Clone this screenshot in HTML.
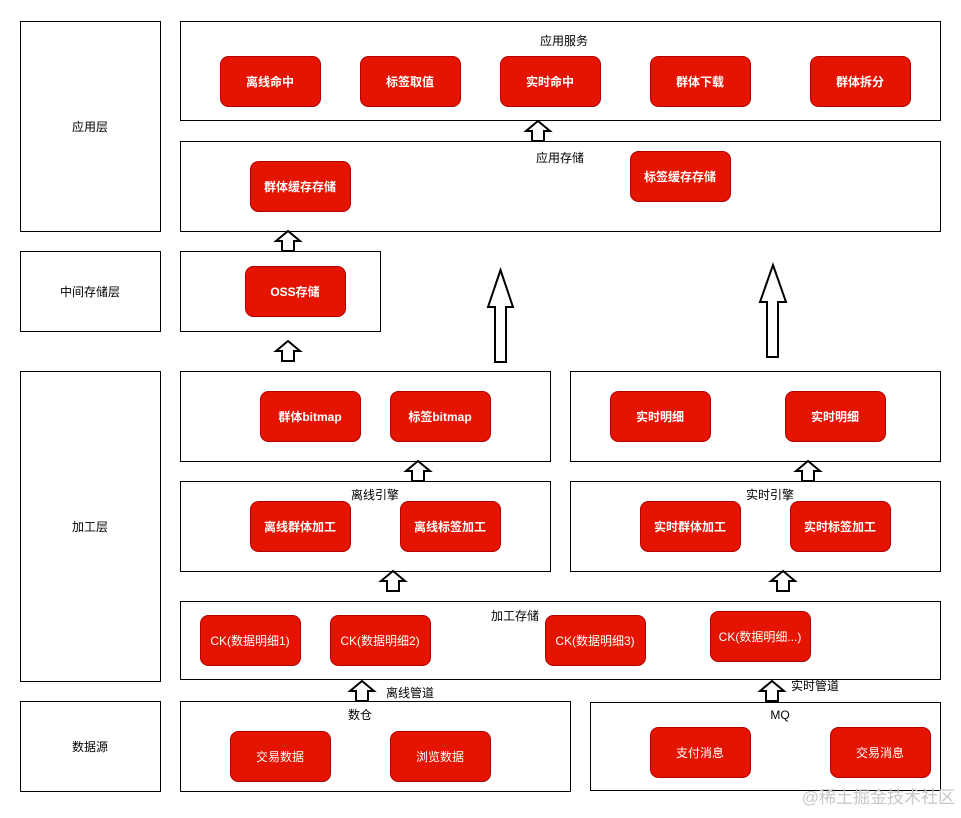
<!DOCTYPE html>
<html><head><meta charset="utf-8"><style>
html,body{margin:0;padding:0;background:#fff;}
svg text{font-family:"Liberation Sans","Noto Sans CJK SC",sans-serif;}
</style></head><body>
<svg width="961" height="813" viewBox="0 0 961 813" xmlns="http://www.w3.org/2000/svg">
<defs>
<g id="sa"><polygon points="0,-10 12,0 6,0 6,10 -6,10 -6,0 -12,0" fill="#fff" stroke="#000" stroke-width="2"/></g>
</defs>
<g fill="#fff" stroke="#000" stroke-width="1">
<rect x="20.5" y="21.5" width="140" height="210"/>
<rect x="20.5" y="251.5" width="140" height="80"/>
<rect x="20.5" y="371.5" width="140" height="310"/>
<rect x="20.5" y="701.5" width="140" height="90"/>
<rect x="180.5" y="21.5" width="760" height="99"/>
<rect x="180.5" y="141.5" width="760" height="90"/>
<rect x="180.5" y="251.5" width="200" height="80"/>
<rect x="180.5" y="371.5" width="370" height="90"/>
<rect x="570.5" y="371.5" width="370" height="90"/>
<rect x="180.5" y="481.5" width="370" height="90"/>
<rect x="570.5" y="481.5" width="370" height="90"/>
<rect x="180.5" y="601.5" width="760" height="78"/>
<rect x="180.5" y="701.5" width="390" height="90"/>
<rect x="590.5" y="702.5" width="350" height="88"/>
</g>
<g font-size="12" fill="#000" text-anchor="middle">
<text x="90" y="131">应用层</text>
<text x="90" y="296">中间存储层</text>
<text x="90" y="531">加工层</text>
<text x="90" y="751">数据源</text>
<text x="564" y="45">应用服务</text>
<text x="560" y="162">应用存储</text>
<text x="375" y="499">离线引擎</text>
<text x="770" y="499">实时引擎</text>
<text x="515" y="620">加工存储</text>
<text x="360" y="719">数仓</text>
<text x="780" y="719">MQ</text>
<text x="410" y="697">离线管道</text>
<text x="815" y="690">实时管道</text>
</g>
<g fill="#e51400" stroke="#b20000" stroke-width="1">
<rect x="220.5" y="56.5" width="100" height="50" rx="8"/>
<rect x="360.5" y="56.5" width="100" height="50" rx="8"/>
<rect x="500.5" y="56.5" width="100" height="50" rx="8"/>
<rect x="650.5" y="56.5" width="100" height="50" rx="8"/>
<rect x="810.5" y="56.5" width="100" height="50" rx="8"/>
<rect x="250.5" y="161.5" width="100" height="50" rx="8"/>
<rect x="630.5" y="151.5" width="100" height="50" rx="8"/>
<rect x="245.5" y="266.5" width="100" height="50" rx="8"/>
<rect x="260.5" y="391.5" width="100" height="50" rx="8"/>
<rect x="390.5" y="391.5" width="100" height="50" rx="8"/>
<rect x="610.5" y="391.5" width="100" height="50" rx="8"/>
<rect x="785.5" y="391.5" width="100" height="50" rx="8"/>
<rect x="250.5" y="501.5" width="100" height="50" rx="8"/>
<rect x="400.5" y="501.5" width="100" height="50" rx="8"/>
<rect x="640.5" y="501.5" width="100" height="50" rx="8"/>
<rect x="790.5" y="501.5" width="100" height="50" rx="8"/>
<rect x="200.5" y="615.5" width="100" height="50" rx="8"/>
<rect x="330.5" y="615.5" width="100" height="50" rx="8"/>
<rect x="545.5" y="615.5" width="100" height="50" rx="8"/>
<rect x="710.5" y="611.5" width="100" height="50" rx="8"/>
<rect x="230.5" y="731.5" width="100" height="50" rx="8"/>
<rect x="390.5" y="731.5" width="100" height="50" rx="8"/>
<rect x="650.5" y="727.5" width="100" height="50" rx="8"/>
<rect x="830.5" y="727.5" width="100" height="50" rx="8"/>
</g>
<g font-size="12" fill="#fff" text-anchor="middle" font-weight="bold">
<text x="270" y="86">离线命中</text>
<text x="410" y="86">标签取值</text>
<text x="550" y="86">实时命中</text>
<text x="700" y="86">群体下载</text>
<text x="860" y="86">群体拆分</text>
<text x="300" y="191">群体缓存存储</text>
<text x="680" y="181">标签缓存存储</text>
<text x="295" y="296">OSS存储</text>
<text x="310" y="421">群体bitmap</text>
<text x="440" y="421">标签bitmap</text>
<text x="660" y="421">实时明细</text>
<text x="835" y="421">实时明细</text>
<text x="300" y="531">离线群体加工</text>
<text x="450" y="531">离线标签加工</text>
<text x="690" y="531">实时群体加工</text>
<text x="840" y="531">实时标签加工</text>
</g>
<g font-size="12" fill="#fff" text-anchor="middle">
<text x="250" y="645">CK(数据明细1)</text>
<text x="380" y="645">CK(数据明细2)</text>
<text x="595" y="645">CK(数据明细3)</text>
<text x="760" y="641">CK(数据明细...)</text>
<text x="280" y="761">交易数据</text>
<text x="440" y="761">浏览数据</text>
<text x="700" y="757">支付消息</text>
<text x="880" y="757">交易消息</text>
</g>
<use href="#sa" x="538" y="131"/>
<use href="#sa" x="288" y="241"/>
<use href="#sa" x="288" y="351"/>
<use href="#sa" x="418" y="471"/>
<use href="#sa" x="808" y="471"/>
<use href="#sa" x="393" y="581"/>
<use href="#sa" x="783" y="581"/>
<use href="#sa" x="362" y="691"/>
<use href="#sa" x="772" y="691"/>
<polygon points="500.5,270 513,307 506,307 506,362 495,362 495,307 488,307" fill="#fff" stroke="#000" stroke-width="2"/>
<polygon points="773,265 786,302 778,302 778,357 767,357 767,302 760,302" fill="#fff" stroke="#000" stroke-width="2"/>
<text x="955" y="803" font-size="17" fill="#c8c8c8" text-anchor="end">@稀土掘金技术社区</text>
</svg>
</body></html>
